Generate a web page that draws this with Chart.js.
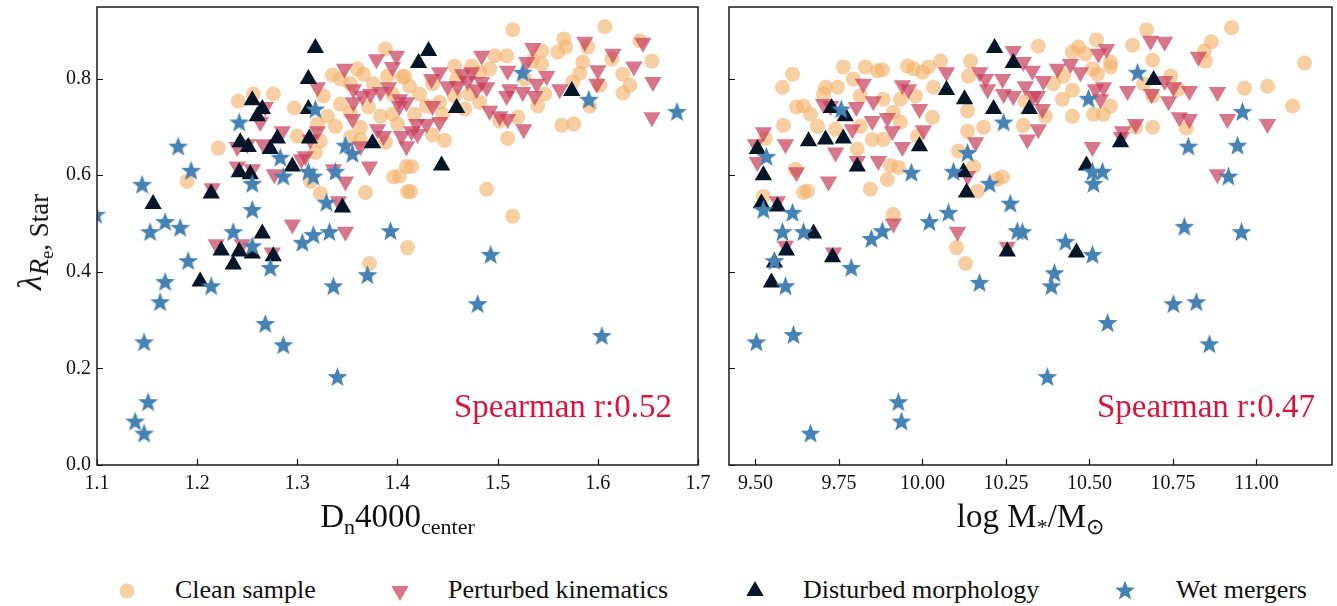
<!DOCTYPE html>
<html>
<head>
<meta charset="utf-8">
<script src="https://cdn.jsdelivr.net/npm/chart.js@4.4.1/dist/chart.umd.min.js"></script>
<style>
  body { margin: 0; background: #fff; }
  #wrap { position: relative; width: 1337px; height: 606px; overflow: hidden;
          font-family: "Liberation Serif", "Times New Roman", serif; color: #111; }
  canvas.panel { position: absolute; top: 0; }
  .xtitle { position: absolute; top: 496px; height: 40px; line-height: 40px; font-size: 33px;
            text-align: center; white-space: nowrap; }
  .xtitle .sb { font-size: 22px; position: relative; top: 7px; line-height: 0; }
  .ytitle { position: absolute; left: 30px; top: 242px; white-space: nowrap; font-size: 34px; line-height: 40px;
            transform: translate(-50%, -50%) rotate(-90deg); }
  .ytitle i { font-style: italic; }
  .ytitle .sb { font-size: 27px; position: relative; top: 7px; line-height: 0; }
  .ytitle .sb2 { font-size: 18px; position: relative; top: 5px; line-height: 0; }
  .corr { position: absolute; top: 386px; height: 40px; line-height: 40px; font-size: 33px;
          color: #dc143c; white-space: nowrap; }
  .leg { position: absolute; top: 575px; height: 30px; line-height: 30px; font-size: 26px; white-space: nowrap; }
  .legmark { position: absolute; top: 576px; }
</style>
</head>
<body>
<div id="wrap">
  <canvas id="sumDn" class="panel" width="720" height="500" style="left:0"></canvas>
  <canvas id="sumMass" class="panel" width="622" height="500" style="left:715px"></canvas>

  <div class="ytitle"><i>λ</i><span class="sb"><i>R</i><span class="sb2">e</span>, Star</span></div>
  <div class="xtitle" style="left:97px;width:601px">D<span class="sb">n</span>4000<span class="sb">center</span></div>
  <div class="xtitle" style="left:729px;width:603px">log M<span class="sb">*</span>/M<span class="sb">⊙</span></div>

  <div class="corr" style="right:665px">Spearman r:0.52</div>
  <div class="corr" style="right:22px">Spearman r:0.47</div>

  <canvas class="legmark" id="lg0" width="30" height="30" style="left:112px"></canvas>
  <div class="leg" style="left:175px">Clean sample</div>
  <canvas class="legmark" id="lg1" width="30" height="30" style="left:385px"></canvas>
  <div class="leg" style="left:448px">Perturbed kinematics</div>
  <canvas class="legmark" id="lg2" width="30" height="30" style="left:740px"></canvas>
  <div class="leg" style="left:803px">Disturbed morphology</div>
  <canvas class="legmark" id="lg3" width="30" height="30" style="left:1110px"></canvas>
  <div class="leg" style="left:1176px">Wet mergers</div>
</div>

<script>
// ── 패널 공통 눈금 ────────────────────────────────────────────────────────────
var lamTicks  = [0.0, 0.2, 0.4, 0.6, 0.8];
var dnTicks   = [1.1, 1.2, 1.3, 1.4, 1.5, 1.6, 1.7];
var massTicks = [9.50, 9.75, 10.00, 10.25, 10.50, 10.75, 11.00];

// ── 왼쪽: Dn4000 vs lambda ───────────────────────────────────────────────────
var cleanDn = [1.241, 1.256, 1.276, 1.297, 1.335, 1.360, 1.366, 1.388, 1.376, 1.390, 1.405, 1.326, 1.343, 1.353,
  1.371, 1.383, 1.395, 1.400, 1.338, 1.330, 1.363, 1.363, 1.320, 1.300, 1.323, 1.318, 1.353, 1.388, 1.396, 1.409,
  1.368, 1.323, 1.313, 1.221, 1.190, 1.410, 1.515, 1.607, 1.566, 1.568, 1.560, 1.544, 1.535, 1.544, 1.585, 1.590,
  1.582, 1.602, 1.625, 1.632, 1.625, 1.654, 1.642, 1.614, 1.575, 1.592, 1.564, 1.576, 1.540, 1.510, 1.520, 1.502,
  1.497, 1.509, 1.492, 1.482, 1.474, 1.457, 1.459, 1.435, 1.457, 1.442, 1.429, 1.482, 1.445, 1.435, 1.447, 1.414,
  1.413, 1.489, 1.515, 1.402, 1.412, 1.407, 1.372, 1.410, 1.353, 1.422, 1.467, 1.417, 1.527, 1.547, 1.472, 1.395, 1.343];
var cleanLamD = [0.753, 0.768, 0.768, 0.739, 0.807, 0.820, 0.809, 0.861, 0.789, 0.805, 0.803, 0.764, 0.747, 0.730,
  0.741, 0.722, 0.726, 0.706, 0.701, 0.722, 0.699, 0.674, 0.706, 0.681, 0.670, 0.647, 0.679, 0.668, 0.596, 0.618,
  0.564, 0.562, 0.587, 0.656, 0.587, 0.566, 0.901, 0.907, 0.882, 0.865, 0.855, 0.857, 0.836, 0.830, 0.834, 0.865,
  0.811, 0.786, 0.809, 0.786, 0.770, 0.836, 0.878, 0.840, 0.793, 0.743, 0.703, 0.706, 0.743, 0.676, 0.720, 0.712,
  0.847, 0.847, 0.820, 0.813, 0.826, 0.826, 0.799, 0.789, 0.764, 0.751, 0.743, 0.751, 0.726, 0.683, 0.672, 0.618,
  0.566, 0.571, 0.515, 0.598, 0.784, 0.805, 0.417, 0.450, 0.789, 0.768, 0.737, 0.726, 0.799, 0.768, 0.768, 0.768, 0.799];

var pertDn = [1.347, 1.379, 1.399, 1.395, 1.356, 1.365, 1.356, 1.373, 1.383, 1.391, 1.355, 1.320, 1.402, 1.386,
  1.404, 1.409, 1.363, 1.372, 1.380, 1.320, 1.313, 1.285, 1.263, 1.268, 1.240, 1.250, 1.266, 1.240, 1.255, 1.277,
  1.304, 1.308, 1.336, 1.348, 1.341, 1.215, 1.295, 1.348, 1.219, 1.245, 1.275, 1.484, 1.535, 1.587, 1.615, 1.645,
  1.636, 1.655, 1.654, 1.600, 1.599, 1.562, 1.549, 1.539, 1.537, 1.525, 1.529, 1.510, 1.509, 1.512, 1.492, 1.502,
  1.510, 1.526, 1.484, 1.489, 1.479, 1.470, 1.465, 1.460, 1.474, 1.450, 1.442, 1.434, 1.435, 1.442, 1.429, 1.419,
  1.414, 1.420, 1.409, 1.402];
var pertLamD = [0.820, 0.840, 0.847, 0.824, 0.778, 0.764, 0.751, 0.768, 0.772, 0.782, 0.716, 0.782, 0.743, 0.681,
  0.681, 0.660, 0.660, 0.618, 0.695, 0.691, 0.674, 0.691, 0.710, 0.741, 0.658, 0.664, 0.664, 0.618, 0.612, 0.602,
  0.633, 0.639, 0.612, 0.587, 0.546, 0.573, 0.498, 0.483, 0.457, 0.457, 0.440, 0.847, 0.863, 0.876, 0.851, 0.874,
  0.825, 0.793, 0.720, 0.817, 0.789, 0.778, 0.805, 0.789, 0.764, 0.772, 0.834, 0.816, 0.764, 0.778, 0.733, 0.722,
  0.716, 0.695, 0.793, 0.782, 0.778, 0.795, 0.809, 0.784, 0.813, 0.784, 0.813, 0.799, 0.743, 0.710, 0.706, 0.706,
  0.691, 0.685, 0.751, 0.757];

var distDn = [1.318, 1.311, 1.255, 1.265, 1.260, 1.311, 1.243, 1.251, 1.280, 1.273, 1.312, 1.375, 1.295, 1.242,
  1.253, 1.214, 1.156, 1.345, 1.265, 1.431, 1.421, 1.459, 1.444, 1.574, 1.224, 1.242, 1.255, 1.236, 1.276, 1.203];
var distLamD = [0.863, 0.799, 0.755, 0.737, 0.722, 0.737, 0.668, 0.658, 0.676, 0.654, 0.676, 0.666, 0.618, 0.606,
  0.602, 0.562, 0.540, 0.533, 0.479, 0.857, 0.832, 0.739, 0.620, 0.774, 0.444, 0.442, 0.438, 0.415, 0.432, 0.380];

var wetDn = [1.242, 1.181, 1.194, 1.145, 1.255, 1.099, 1.168, 1.153, 1.183, 1.255, 1.236, 1.318, 1.348, 1.355,
  1.283, 1.286, 1.311, 1.316, 1.338, 1.329, 1.316, 1.332, 1.393, 1.305, 1.255, 1.191, 1.168, 1.163, 1.214, 1.273,
  1.370, 1.336, 1.268, 1.286, 1.340, 1.147, 1.151, 1.138, 1.147, 1.493, 1.480, 1.604, 1.525, 1.591, 1.679];
var wetLamD = [0.708, 0.658, 0.608, 0.579, 0.581, 0.517, 0.502, 0.481, 0.490, 0.527, 0.481, 0.735, 0.660, 0.643,
  0.635, 0.596, 0.606, 0.596, 0.606, 0.542, 0.475, 0.481, 0.483, 0.459, 0.452, 0.421, 0.378, 0.336, 0.369, 0.407,
  0.392, 0.369, 0.291, 0.247, 0.181, 0.253, 0.129, 0.089, 0.064, 0.434, 0.332, 0.266, 0.811, 0.755, 0.730];

// ── 오른쪽: log M* vs lambda ─────────────────────────────────────────────────
var cleanMass = [9.611, 9.581, 9.763, 9.710, 9.746, 9.793, 9.829, 9.865, 9.880, 9.955, 9.973, 10.000, 10.018,
  10.054, 10.144, 10.138, 9.704, 9.814, 9.883, 9.934, 9.979, 10.033, 9.623, 9.644, 9.665, 9.584, 9.686, 9.740,
  9.814, 9.850, 9.883, 9.913, 9.934, 9.985, 10.030, 10.135, 10.183, 10.135, 9.805, 9.904, 9.928, 9.895, 9.844,
  9.656, 9.644, 9.620, 9.524, 9.530, 9.913, 10.108, 10.153, 10.165, 10.222, 10.240, 10.302, 10.347, 10.449,
  10.467, 10.488, 10.521, 10.629, 10.671, 10.865, 10.844, 10.925, 10.689, 10.743, 10.662, 10.689, 10.766, 10.563,
  10.524, 10.509, 10.422, 10.392, 10.449, 10.419, 10.563, 10.542, 10.512, 10.449, 10.368, 10.308, 10.563, 10.689,
  10.638, 10.790, 10.964, 11.033, 11.144, 11.108, 10.847, 10.102, 10.129];
var cleanLamM = [0.809, 0.782, 0.824, 0.782, 0.782, 0.799, 0.824, 0.816, 0.818, 0.826, 0.820, 0.813, 0.824,
  0.836, 0.836, 0.805, 0.768, 0.764, 0.757, 0.757, 0.764, 0.782, 0.741, 0.743, 0.726, 0.703, 0.701, 0.695,
  0.701, 0.674, 0.674, 0.730, 0.710, 0.681, 0.720, 0.691, 0.699, 0.733, 0.654, 0.620, 0.616, 0.591, 0.571,
  0.567, 0.564, 0.612, 0.556, 0.676, 0.519, 0.650, 0.618, 0.567, 0.591, 0.596, 0.703, 0.867, 0.855,
  0.865, 0.851, 0.880, 0.869, 0.901, 0.876, 0.857, 0.905, 0.838, 0.805, 0.789, 0.764, 0.778, 0.824,
  0.809, 0.820, 0.805, 0.789, 0.776, 0.757, 0.743, 0.726, 0.726, 0.722, 0.722, 0.753, 0.834, 0.699,
  0.699, 0.697, 0.780, 0.784, 0.832, 0.743, 0.836, 0.450, 0.417];

var pertMass = [9.823, 9.940, 9.958, 10.072, 9.704, 9.725, 9.802, 9.853, 9.850, 9.895, 9.910, 9.940, 9.991,
  10.003, 9.524, 9.500, 9.590, 9.740, 9.790, 9.868, 9.623, 9.719, 9.506, 9.566, 9.805, 10.159, 10.135, 9.913,
  10.105, 10.171, 10.189, 10.240, 10.272, 10.302, 10.329, 10.195, 10.243, 10.272, 10.308, 10.332, 10.314, 10.347,
  10.362, 10.344, 10.359, 10.404, 10.443, 10.473, 10.527, 10.551, 10.518, 10.542, 10.533, 10.614, 10.599, 10.638,
  10.683, 10.725, 10.725, 10.751, 10.686, 10.737, 10.799, 10.769, 10.799, 10.826, 10.883, 10.913, 11.033, 10.883,
  10.509, 10.596, 9.734, 9.590, 10.254];
var pertLamM = [0.789, 0.786, 0.778, 0.813, 0.747, 0.743, 0.741, 0.753, 0.712, 0.718, 0.691, 0.658, 0.737,
  0.693, 0.689, 0.664, 0.664, 0.647, 0.695, 0.629, 0.606, 0.587, 0.627, 0.546, 0.629, 0.668, 0.598, 0.500,
  0.483, 0.813, 0.799, 0.799, 0.857, 0.834, 0.816, 0.778, 0.768, 0.764, 0.784, 0.764, 0.674, 0.695,
  0.795, 0.764, 0.737, 0.820, 0.830, 0.813, 0.851, 0.861, 0.778, 0.782, 0.757, 0.774, 0.691, 0.706,
  0.878, 0.876, 0.795, 0.782, 0.768, 0.753, 0.774, 0.720, 0.716, 0.845, 0.772, 0.716, 0.706, 0.602,
  0.658, 0.679, 0.440, 0.454, 0.452];

var distMass = [10.216, 10.272, 10.072, 10.126, 10.213, 10.320, 9.728, 9.769, 9.659, 9.710, 9.763, 9.991, 9.805,
  9.506, 9.524, 9.518, 9.566, 10.123, 10.132, 9.674, 10.692, 10.593, 10.491, 9.593, 9.557, 9.548, 9.731, 10.254, 10.461];
var distLamM = [0.863, 0.832, 0.776, 0.757, 0.737, 0.737, 0.739, 0.722, 0.670, 0.674, 0.676, 0.660, 0.618,
  0.654, 0.600, 0.542, 0.535, 0.606, 0.564, 0.479, 0.797, 0.668, 0.620, 0.444, 0.419, 0.378, 0.430, 0.442, 0.440];

var wetMass = [9.757, 9.533, 9.967, 10.093, 10.135, 10.201, 10.243, 10.263, 10.284, 9.524, 9.611, 9.581, 9.644,
  9.880, 10.021, 10.078, 9.847, 10.644, 10.497, 10.958, 10.796, 10.943, 10.916, 10.509, 10.539, 10.512, 10.784,
  10.955, 10.299, 10.428, 9.557, 9.590, 9.503, 9.614, 9.787, 10.171, 9.928, 9.937, 9.665, 10.509, 10.395, 10.386,
  10.751, 10.820, 10.554, 10.859, 10.374];
var wetLamM = [0.735, 0.637, 0.604, 0.606, 0.645, 0.581, 0.708, 0.540, 0.483, 0.527, 0.521, 0.481, 0.481,
  0.483, 0.502, 0.521, 0.467, 0.811, 0.757, 0.730, 0.658, 0.660, 0.596, 0.606, 0.606, 0.581, 0.492,
  0.481, 0.481, 0.461, 0.421, 0.369, 0.253, 0.268, 0.407, 0.376, 0.129, 0.089, 0.064, 0.434, 0.396, 0.369,
  0.332, 0.336, 0.293, 0.249, 0.181];

// ── 스타일 ──────────────────────────────────────────────────────────────────
var C_CLEAN = "rgba(242,175,100,0.6)";
var C_PERT  = "rgba(200,60,90,0.7)";
var C_DIST  = "#061528";
var C_WET   = "#4682b4";
var FONT    = "'Liberation Serif', 'Times New Roman', serif";

function pts(xs, ys) {
  return xs.map(function(x, i) { return { x: x, y: ys[i] }; });
}

// 5각 별 마커 (Chart.js 기본 star는 선으로만 그려짐)
function starPath(g, cx, cy, R) {
  g.beginPath();
  for (var i = 0; i < 10; i++) {
    var r = i % 2 === 0 ? R : R * 0.42;
    var a = -Math.PI / 2 + i * Math.PI / 5;
    g.lineTo(cx + r * Math.cos(a), cy + r * Math.sin(a));
  }
  g.closePath();
}
function makeStar(R, color) {
  var c = document.createElement("canvas");
  var s = Math.ceil(R * 2 + 2);
  c.width = s; c.height = s;
  var g = c.getContext("2d");
  g.fillStyle = color;
  starPath(g, s / 2, s / 2, R);
  g.fill();
  return c;
}
var starImg = makeStar(10.5, C_WET);

// 안쪽 눈금 + 테두리
var framePlugin = {
  id: "frame",
  afterDraw: function(chart) {
    var ctx = chart.ctx, a = chart.chartArea;
    var xs = chart.scales.x, ys = chart.scales.y;
    ctx.save();
    ctx.strokeStyle = "#1a1a1a";
    ctx.lineWidth = 1.2;
    ctx.beginPath();
    xs.ticks.forEach(function(t) {
      var px = Math.round(xs.getPixelForValue(t.value)) + 0.5;
      ctx.moveTo(px, a.bottom); ctx.lineTo(px, a.bottom - 6);
    });
    ys.ticks.forEach(function(t) {
      var py = Math.round(ys.getPixelForValue(t.value)) + 0.5;
      ctx.moveTo(a.left, py); ctx.lineTo(a.left + 6, py);
    });
    ctx.stroke();
    ctx.lineWidth = 1.5;
    ctx.strokeRect(a.left, a.top, a.right - a.left, a.bottom - a.top);
    ctx.restore();
  },
};

// 축 크기 고정 (라벨 반높이만큼 영역이 밀리지 않도록)
function fixSize(w, h) {
  return function(s) {
    if (w !== null) s.width = w;
    if (h !== null) s.height = h;
    s.paddingTop = 0; s.paddingBottom = 0; s.paddingLeft = 0; s.paddingRight = 0;
  };
}

function buildDatasets(cx, cy, px, py, dx, dy, wx, wy) {
  return [
    { label: "Clean sample", data: pts(cx, cy), pointStyle: "circle", pointRadius: 7.5,
      backgroundColor: C_CLEAN, borderWidth: 0, order: 3 },
    { label: "Perturbed kinematics", data: pts(px, py), pointStyle: "triangle", rotation: 180, pointRadius: 10,
      backgroundColor: C_PERT, borderWidth: 0, order: 2 },
    { label: "Disturbed morphology", data: pts(dx, dy), pointStyle: "triangle", pointRadius: 10,
      backgroundColor: C_DIST, borderWidth: 0, order: 1 },
    { label: "Wet mergers", data: pts(wx, wy), pointStyle: starImg, pointRadius: 10,
      backgroundColor: C_WET, borderWidth: 0, order: 0 },
  ];
}

function panel(canvasId, datasets, xCfg, yWidth, padRight, showY) {
  return new Chart(document.getElementById(canvasId).getContext("2d"), {
    type: "scatter",
    data: { datasets: datasets },
    plugins: [framePlugin],
    options: {
      responsive: false, animation: false,
      layout: { autoPadding: false, padding: { top: 7, right: padRight, bottom: 0, left: 0 } },
      plugins: { legend: { display: false }, tooltip: { enabled: false } },
      scales: {
        x: {
          type: "linear", min: xCfg.min, max: xCfg.max,
          grid: { display: false, drawTicks: false }, border: { display: false },
          afterFit: fixSize(null, 35),
          afterBuildTicks: function(s) { s.ticks = xCfg.ticks.map(function(v) { return { value: v }; }); },
          ticks: {
            padding: 7, color: "#111", font: { family: FONT, size: 20 },
            callback: function(v) { return v.toFixed(xCfg.digits); },
          },
        },
        y: {
          type: "linear", min: 0, max: 0.948,
          grid: { display: false, drawTicks: false }, border: { display: false },
          afterFit: fixSize(yWidth, null),
          afterBuildTicks: function(s) { s.ticks = lamTicks.map(function(v) { return { value: v }; }); },
          ticks: {
            display: showY, padding: 6, color: "#111", font: { family: FONT, size: 20 },
            callback: function(v) { return v.toFixed(1); },
          },
        },
      },
    },
  });
}

panel("sumDn",
  buildDatasets(cleanDn, cleanLamD, pertDn, pertLamD, distDn, distLamD, wetDn, wetLamD),
  { min: 1.1, max: 1.7, ticks: dnTicks, digits: 1 }, 97, 22, true);

panel("sumMass",
  buildDatasets(cleanMass, cleanLamM, pertMass, pertLamM, distMass, distLamM, wetMass, wetLamM),
  { min: 9.421, max: 11.226, ticks: massTicks, digits: 2 }, 14, 5, false);

// ── 범례 마커 ────────────────────────────────────────────────────────────────
function triPath(g, cx, cy, r, down) {
  var rot = down ? Math.PI : 0;
  g.beginPath();
  for (var i = 0; i < 3; i++) {
    var a = rot - Math.PI / 2 + i * 2 * Math.PI / 3;
    g.lineTo(cx + r * Math.cos(a), cy + r * Math.sin(a));
  }
  g.closePath();
}
(function drawLegend() {
  var g;
  g = document.getElementById("lg0").getContext("2d");
  g.fillStyle = C_CLEAN; g.beginPath(); g.arc(15, 15, 7.5, 0, Math.PI * 2); g.fill();
  g = document.getElementById("lg1").getContext("2d");
  g.fillStyle = C_PERT; triPath(g, 15, 15, 10, true); g.fill();
  g = document.getElementById("lg2").getContext("2d");
  g.fillStyle = C_DIST; triPath(g, 15, 15, 10, false); g.fill();
  g = document.getElementById("lg3").getContext("2d");
  g.fillStyle = C_WET; starPath(g, 15, 15, 10.5); g.fill();
})();
</script>
</body>
</html>
